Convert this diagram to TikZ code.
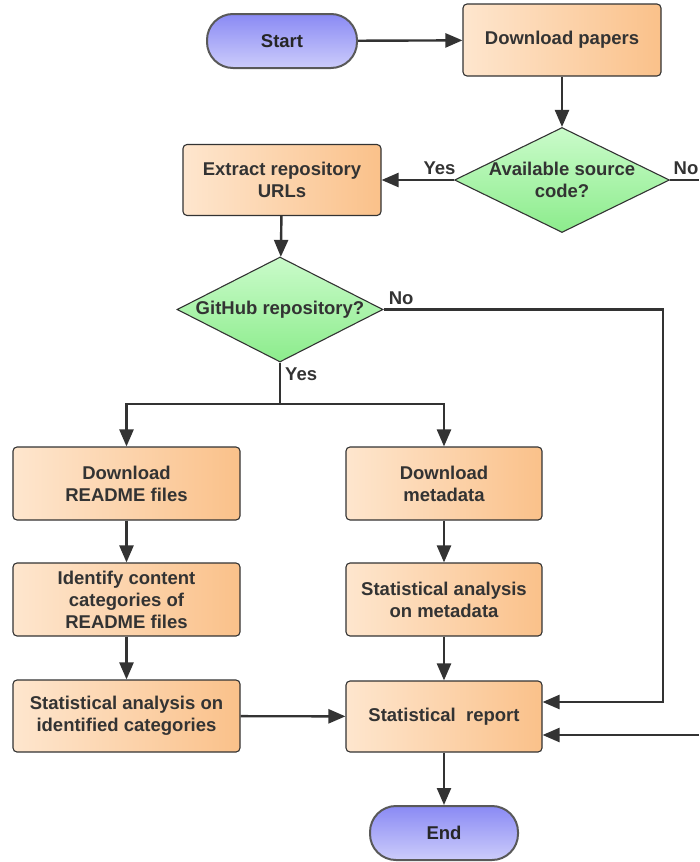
\documentclass[tikz,border=0pt]{standalone}
\usepackage{fontspec}
\setmainfont{Liberation Sans}
\usetikzlibrary{arrows.meta,shapes.geometric}
\definecolor{boxL}{HTML}{FEE6CE}
\definecolor{boxR}{HTML}{FAC18A}
\definecolor{grT}{HTML}{CAFBCA}
\definecolor{grB}{HTML}{8CEC8C}
\definecolor{blT}{HTML}{8A8AF4}
\definecolor{blB}{HTML}{CCCCFB}
\definecolor{edge}{HTML}{333333}
\definecolor{txt}{HTML}{333333}
\begin{document}
\begin{tikzpicture}[x=1pt,y=-1pt,
  font=\bfseries\fontsize{18.5}{22}\selectfont, text=txt,
  procbox/.style={draw=edge, line width=1.1pt, rounded corners=4pt,
    left color=boxL, right color=boxR, align=center, inner sep=0pt},
  decbox/.style={diamond, draw=edge, line width=1.1pt, top color=grT, bottom color=grB,
    inner sep=0pt, minimum width=#1, minimum height=105pt},
  termbox/.style={draw=black!65, line width=2pt, rounded corners=26pt,
    top color=blT, bottom color=blB, text=black!85, inner sep=0pt,
    minimum width=#1, minimum height=54pt},
  arr/.style={draw=edge, line width=2.4pt, -{Triangle[length=17pt,width=14pt]}},
  ln/.style={draw=edge, line width=2.4pt},
  lbl/.style={text=txt, inner sep=4pt}
]
\useasboundingbox (0,0) rectangle (699,862);

% nodes
\node[termbox=150pt] (start) at (282,41) {Start};
\node[procbox, minimum width=198pt, minimum height=72pt] (dlp) at (562,40) {Download papers};
\node[decbox=215pt, label={[align=center, text=txt]center:Available source\\code?}] (dec1) at (562,180) {};
\node[procbox, minimum width=198pt, minimum height=71pt] (ext) at (282,180) {Extract repository\\URLs};
\node[decbox=206pt, label={[text=txt]center:GitHub repository?}] (dec2) at (280,309.5) {};
\node[procbox, minimum width=227pt, minimum height=73pt] (rd) at (126.5,483.5) {Download\\README files};
\node[procbox, minimum width=196pt, minimum height=73pt] (md) at (444,483.5) {Download\\metadata};
\node[procbox, minimum width=227pt, minimum height=73pt] (ic) at (126.5,599.5) {Identify content\\categories of\\README files};
\node[procbox, minimum width=196pt, minimum height=73pt] (sam) at (444,599.5) {Statistical analysis\\on metadata};
\node[procbox, minimum width=227pt, minimum height=72pt] (sai) at (126.5,716) {Statistical analysis on\\identified categories};
\node[procbox, minimum width=196pt, minimum height=71pt] (sr) at (444,716.5) {Statistical\ \ report};
\node[termbox=148pt] (end) at (444,833) {End};

\coordinate (noOff) at (699,180);
\coordinate (split) at (280,404);
\coordinate (noCorner) at (663,309.5);
\coordinate (inR) at (699,735);

% connectors
\draw[arr] (start) -- (dlp);
\draw[arr] (dlp) -- (dec1);
\draw[arr] (dec1) -- node[lbl, above, pos=0.2]{Yes} (ext);
\draw[ln] (dec1.east) -- node[lbl, above, pos=0.55]{No} (noOff);
\draw[arr] (ext) -- (dec2);
\draw[ln] (dec2.south) -- node[lbl, right, pos=0.28]{Yes} (split);
\draw[arr] (split) -| (rd);
\draw[arr] (split) -| (md);
\draw[arr] (dec2.east) -- node[lbl, above right, pos=0]{No} (noCorner) |- ([yshift=14.5pt]sr.east);
\draw[arr] (inR) -- ([yshift=-18.5pt]sr.east);
\draw[arr] (rd) -- (ic);
\draw[arr] (ic) -- (sai);
\draw[arr] (md) -- (sam);
\draw[arr] (sam) -- (sr);
\draw[arr] (sai) -- (sr);
\draw[arr] (sr) -- (end);
\end{tikzpicture}
\end{document}
